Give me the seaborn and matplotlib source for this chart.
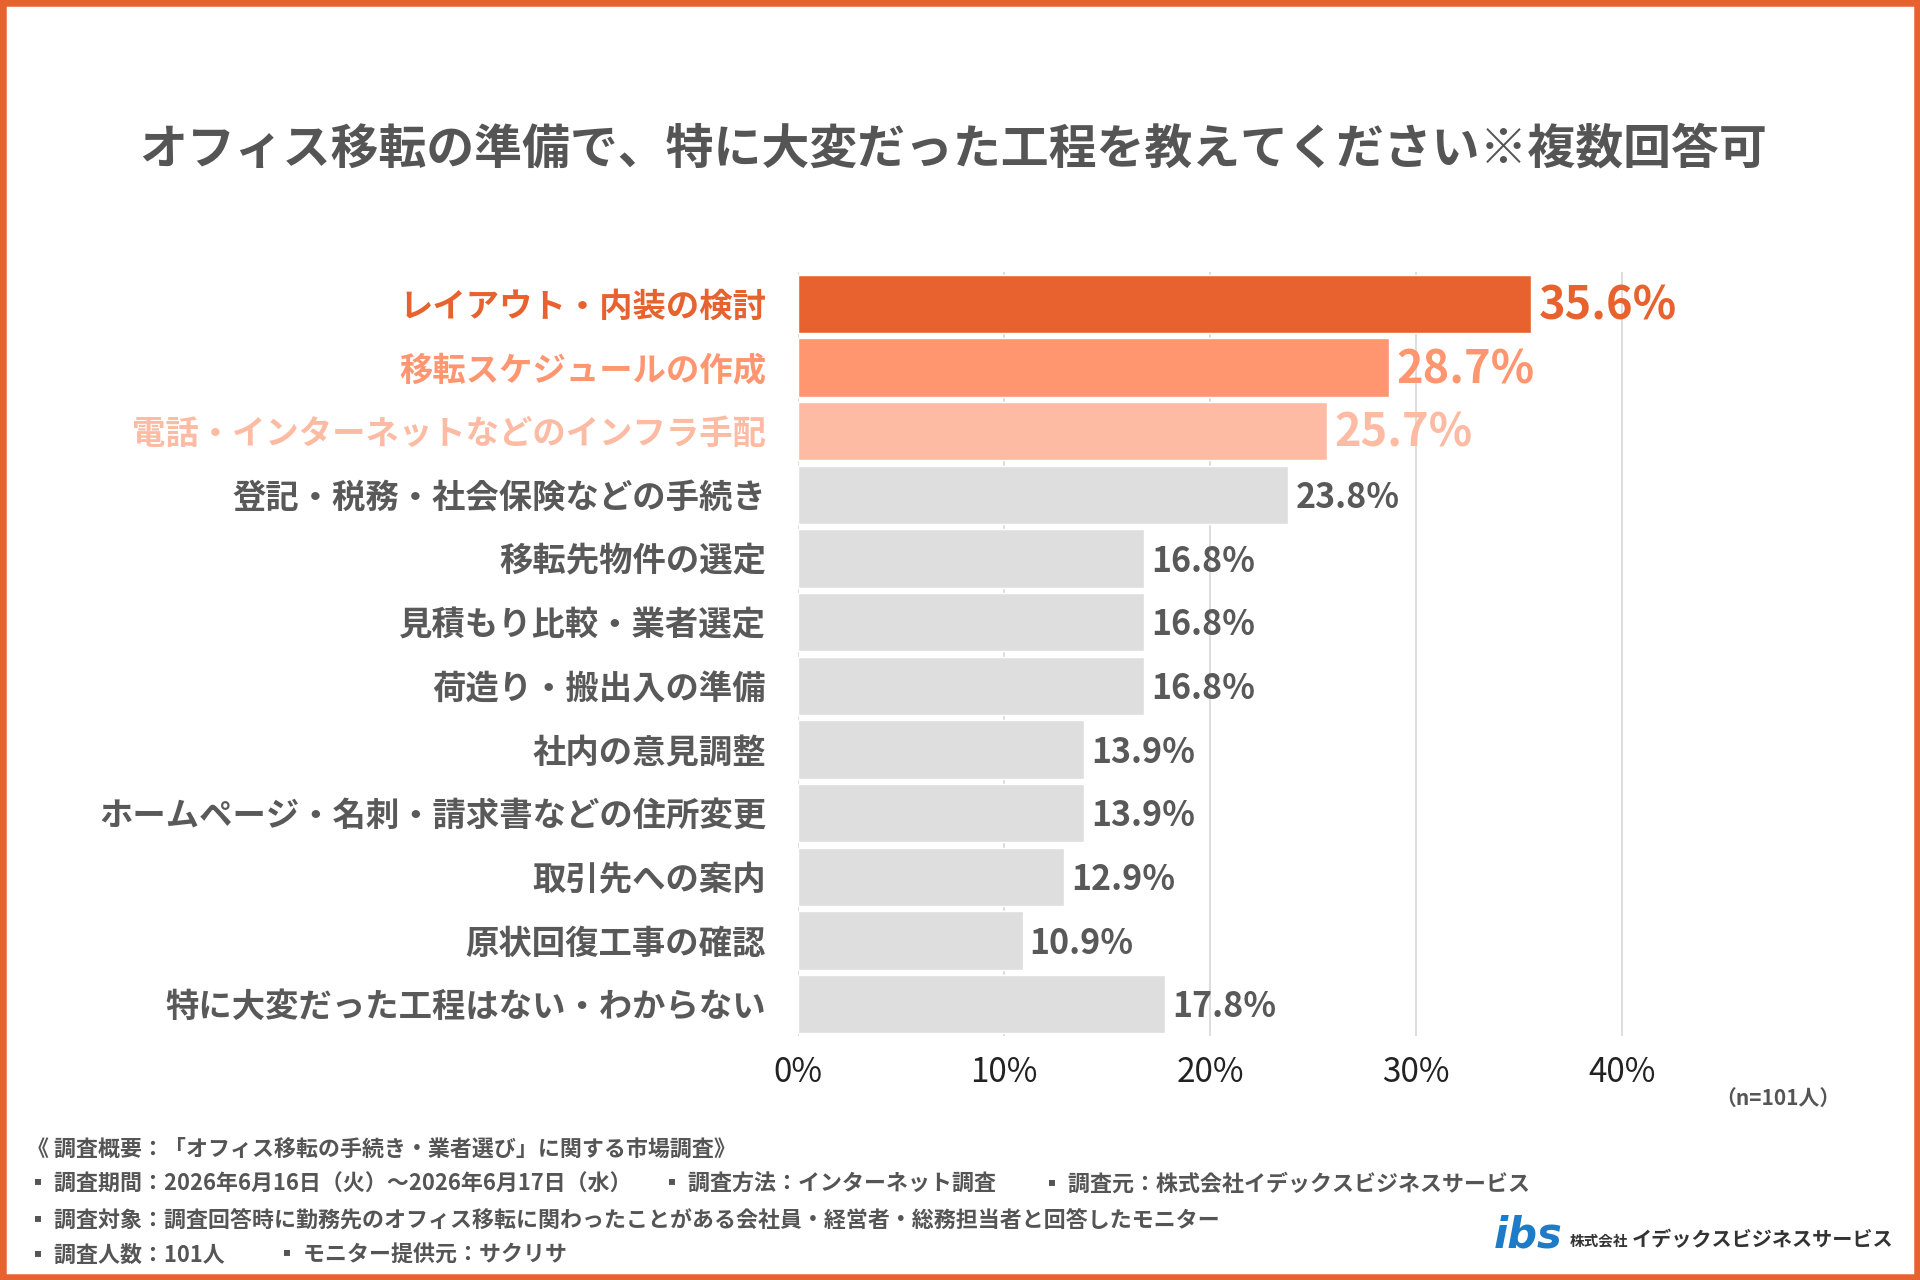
import matplotlib
matplotlib.use("Agg")
import matplotlib.pyplot as plt
from matplotlib.patches import Rectangle
import seaborn as sns
import pandas as pd

categories = [
    "レイアウト・内装の検討",
    "移転スケジュールの作成",
    "電話・インターネットなどのインフラ手配",
    "登記・税務・社会保険などの手続き",
    "移転先物件の選定",
    "見積もり比較・業者選定",
    "荷造り・搬出入の準備",
    "社内の意見調整",
    "ホームページ・名刺・請求書などの住所変更",
    "取引先への案内",
    "原状回復工事の確認",
    "特に大変だった工程はない・わからない",
]
values = [35.6, 28.7, 25.7, 23.8, 16.8, 16.8, 16.8, 13.9, 13.9, 12.9, 10.9, 17.8]
xticks = [0, 10, 20, 30, 40]

title = "オフィス移転の準備で、特に大変だった工程を教えてください※複数回答可"
footer_lines = [
    [(27, "《 調査概要：「オフィス移転の手続き・業者選び」に関する市場調査》")],
    [(27, "▪ 調査期間：2026年6月16日（火）～2026年6月17日（水）"),
     (661, "▪ 調査方法：インターネット調査"),
     (1041, "▪ 調査元：株式会社イデックスビジネスサービス")],
    [(27, "▪ 調査対象：調査回答時に勤務先のオフィス移転に関わったことがある会社員・経営者・総務担当者と回答したモニター")],
    [(27, "▪ 調査人数：101人"), (276, "▪ モニター提供元：サクリサ")],
]
n_note = "（n=101人）"

ORANGE = "#E8622F"
bar_colors = [ORANGE, "#FF9670", "#FCBBA2"] + ["#DEDEDE"] * 9
label_colors = [ORANGE, "#FF9670", "#FCBBA2"] + ["#595959"] * 9

sns.set_theme(style="white")
plt.rcParams["font.family"] = ["Noto Sans CJK JP", "DejaVu Sans"]

W, H = 1920, 1280
fig = plt.figure(figsize=(W / 100, H / 100), dpi=100)
ax = fig.add_axes([798 / W, 1 - 1036 / H, (1725 - 798) / W, (1036 - 272) / H])

df = pd.DataFrame({"cat": categories, "val": values})
sns.barplot(data=df, x="val", y="cat", hue="cat", palette=bar_colors,
            legend=False, width=0.92, orient="h", ax=ax, saturation=1)

ax.set_xlim(0, 45)
ax.set_ylim(len(categories) - 0.5, -0.5)
ax.set_xticks(xticks)
ax.set_xticklabels([f"{t}%" for t in xticks], fontsize=24, color="#222222")
ax.tick_params(axis="x", length=0, pad=14)
ax.tick_params(axis="y", length=0, pad=23)
ax.set_yticks(range(len(categories)))
ax.set_yticklabels(categories, fontsize=24, fontweight="bold")
for lbl, c in zip(ax.get_yticklabels(), label_colors):
    lbl.set_color(c)
ax.set_xlabel("")
ax.set_ylabel("")
for s in ax.spines.values():
    s.set_visible(False)
ax.xaxis.grid(True, color="#DADADA", lw=1.3)
ax.yaxis.grid(False)
ax.set_axisbelow(True)

for i, (v, c) in enumerate(zip(values, label_colors)):
    big = i < 3
    ax.text(v + 0.35, i + 0.04, f"{v:.1f}%", va="center", ha="left",
            fontsize=32.5 if big else 24.5, fontweight="bold", color=c)

fig.text(953 / W, 1 - 149 / H, title, ha="center", va="center",
         fontsize=34.5, fontweight="bold", color="#555555")

fig.text(1840 / W, 1 - 1098 / H, n_note, ha="right", va="center",
         fontsize=15, fontweight="bold", color="#555555")

ys = [1149, 1184, 1220, 1255]
for y, items in zip(ys, footer_lines):
    for x, t in items:
        fig.text(x / W, 1 - y / H, t, ha="left", va="center",
                 fontsize=15.8, fontweight="bold", color="#555555")

# logo
fig.text(1494 / W, 1 - 1236 / H, "ibs", ha="left", va="center", fontsize=30,
         fontweight="bold", style="italic", color="#1E7BC8",
         family=["DejaVu Sans"])
fig.text(1570 / W, 1 - 1240 / H, "株式会社", ha="left", va="center",
         fontsize=10.5, fontweight="bold", color="#333333")
fig.text(1632 / W, 1 - 1240 / H, "イデックスビジネスサービス", ha="left", va="center",
         fontsize=14.5, fontweight="bold", color="#333333")

fig.patches.append(Rectangle((0, 0), 1, 1, transform=fig.transFigure,
                             fill=False, edgecolor=ORANGE, lw=9, zorder=10))

fig.savefig("out.png", dpi=100, facecolor="white")
